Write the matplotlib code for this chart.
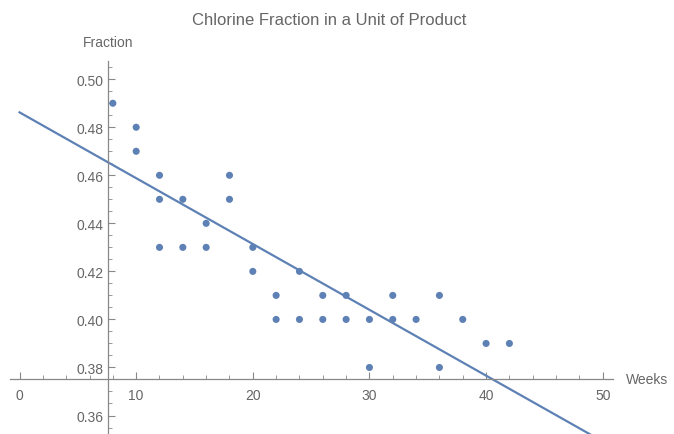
import matplotlib
matplotlib.use("Agg")
import matplotlib.pyplot as plt
from matplotlib.ticker import MultipleLocator, FormatStrFormatter
import numpy as np

plt.rcParams['font.family'] = ['Liberation Sans', 'DejaVu Sans']

# Chlorine data (weeks vs fraction), points as shown
weeks = [8, 10, 10, 12, 12, 12, 14, 14, 16, 16, 18, 18, 20, 20, 22, 22,
         24, 24, 26, 26, 28, 28, 30, 30, 32, 32, 34, 36, 36, 38, 40, 42]
fraction = [0.49, 0.48, 0.47, 0.46, 0.45, 0.43, 0.45, 0.43, 0.44, 0.43,
            0.46, 0.45, 0.43, 0.42, 0.41, 0.40, 0.42, 0.40, 0.41, 0.40,
            0.41, 0.40, 0.40, 0.38, 0.41, 0.40, 0.40, 0.41, 0.38, 0.40,
            0.39, 0.39]

# linear fit as drawn
fit_intercept = 0.4862
fit_slope = -0.00274
fit_range = (0, 50)

blue = "#5E81B5"
gray = "#666666"

fig = plt.figure(figsize=(6.74, 4.35), dpi=100)
ax = fig.add_axes([0.0148, 0.0, 0.895, 0.857])

xs = np.linspace(fit_range[0], fit_range[1], 200)
ax.plot(xs, fit_intercept + fit_slope * xs, color=blue, lw=1.6, zorder=2)
ax.scatter(weeks, fraction, s=26, color=blue, zorder=3, edgecolors="none")

ax.set_xlim(-0.82, 50.9)
ax.set_ylim(0.3523, 0.5075)

for s in ["top", "right"]:
    ax.spines[s].set_visible(False)
ax.spines["left"].set_position(("data", 7.62))
ax.spines["bottom"].set_position(("data", 0.375))
for s in ["left", "bottom"]:
    ax.spines[s].set_color("#888888")
    ax.spines[s].set_linewidth(0.9)

ax.xaxis.set_major_locator(MultipleLocator(10))
ax.xaxis.set_minor_locator(MultipleLocator(2))
ax.yaxis.set_major_locator(MultipleLocator(0.02))
ax.yaxis.set_minor_locator(MultipleLocator(0.005))
ax.yaxis.set_major_formatter(FormatStrFormatter("%.2f"))

ax.tick_params(axis="both", which="major", direction="in", length=5,
               width=0.8, color="#888888", labelcolor=gray, labelsize=10)
ax.tick_params(axis="both", which="minor", direction="in", length=3,
               width=0.6, color="#888888")
ax.tick_params(axis="x", which="both", direction="in", pad=6)

fig.text(0.488, 0.954, "Chlorine Fraction in a Unit of Product", color=gray,
         fontsize=12, ha="center", va="center")
ax.text(7.62, 0.5125, "Fraction", color=gray, fontsize=10,
        ha="center", va="bottom")
ax.text(52.0, 0.375, "Weeks", color=gray, fontsize=10,
        ha="left", va="center", clip_on=False)

fig.savefig("out.png", dpi=100)
